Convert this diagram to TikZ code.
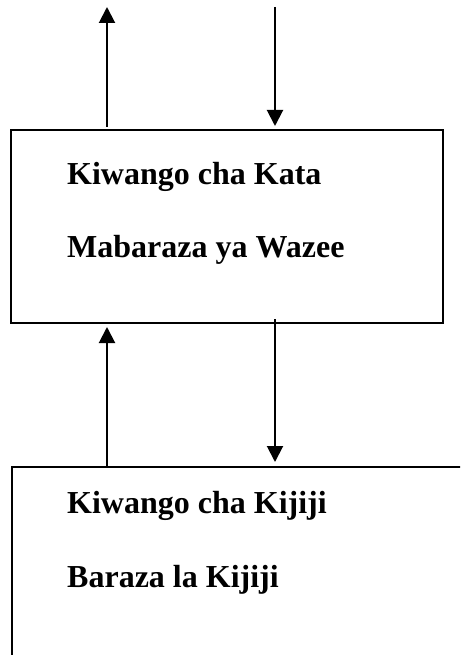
\documentclass[tikz,border=0pt]{standalone}
\usepackage{fontspec}
\setmainfont{Liberation Serif}
\usetikzlibrary{arrows.meta}
\begin{document}
\begin{tikzpicture}[x=1pt,y=-1pt,
  box/.style={draw=black, line width=2pt, fill=none, inner sep=0pt},
  lbl/.style={anchor=base west, inner sep=0pt, font=\fontsize{32}{36}\selectfont\bfseries},
  conn/.style={line width=2pt, -{Triangle[width=16pt,length=16pt]}}]
\useasboundingbox (0,0) rectangle (460,655);
\clip (0,0) rectangle (460,655);
\fill[white] (0,0) rectangle (460,655);
\node[box, minimum width=432pt, minimum height=193pt] (kata) at (227,226.5) {};
\node[box, anchor=north west, minimum width=480pt, minimum height=230pt] (kijiji) at (11,466) {};
\node[lbl] (t1) at (67,184) {Kiwango cha Kata};
\node[lbl] (t2) at (67,257) {Mabaraza ya Wazee};
\node[lbl] (t3) at (67,513) {Kiwango cha Kijiji};
\node[lbl] (t4) at (67,587) {Baraza la Kijiji};
\coordinate (a1) at (107,7);
\coordinate (a2) at (275,7);
\draw[conn] ([yshift=2pt]kata.north -| a1) -- (a1);
\draw[conn, shorten >=3pt] (a2) -- (kata.north -| a2);
\draw[conn, shorten >=3pt] (kijiji.north -| a1) -- (kata.south -| a1);
\draw[conn, shorten >=4pt] ([yshift=5pt]kata.south -| a2) -- (kijiji.north -| a2);
\end{tikzpicture}
\end{document}
